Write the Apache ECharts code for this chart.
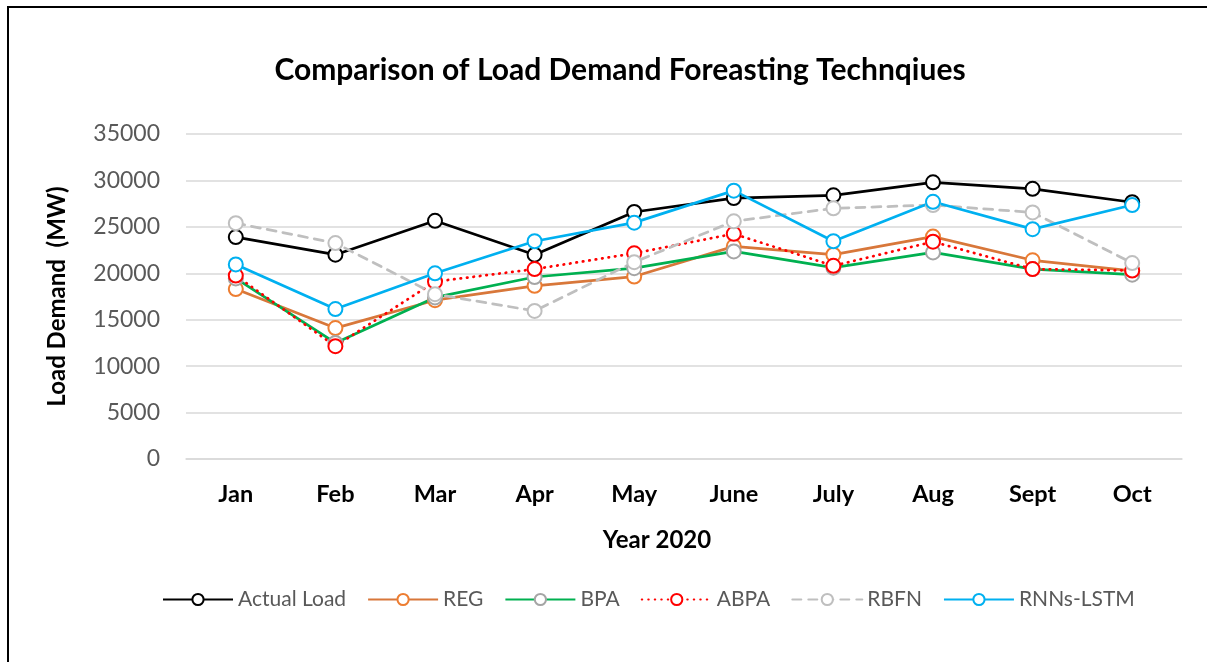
<!DOCTYPE html>
<html>
<head>
<meta charset="utf-8">
<script src="https://cdn.jsdelivr.net/npm/echarts@6/dist/echarts.min.js"></script>
<style>
  html, body { margin: 0; padding: 0; background: #fff; }
  #loadChart { width: 1207px; height: 662px; }
</style>
</head>
<body>
<div id="loadChart"></div>
<script>
  // months of 2020
  var months = ['Jan', 'Feb', 'Mar', 'Apr', 'May', 'June', 'July', 'Aug', 'Sept', 'Oct']

  // load demand in MW
  var actualLoad = [23900, 22000, 25650, 22000, 26600, 28100, 28400, 29800, 29100, 27650]
  var reg = [18300, 14100, 17100, 18650, 19650, 22900, 22000, 23950, 21400, 20250]
  var bpa = [19450, 12500, 17400, 19600, 20550, 22350, 20600, 22250, 20450, 19850]
  var abpa = [19750, 12150, 19100, 20450, 22150, 24250, 20800, 23400, 20450, 20300]
  var rbfn = [25400, 23250, 17750, 15950, 21200, 25600, 27000, 27350, 26550, 21100]
  var rnnsLstm = [20950, 16150, 20000, 23450, 25450, 28900, 23450, 27700, 24750, 27350]

  var yTicks = [0, 5000, 10000, 15000, 20000, 25000, 30000, 35000]

  var baseFont = 'Lato, "Liberation Sans", sans-serif'

  function makeLine(name, data, lineColor, markColor, lineType) {
    return {
      name: name,
      type: 'line',
      data: data,
      symbol: 'emptyCircle',
      symbolSize: 14,
      showSymbol: true,
      lineStyle: {
        color: lineColor,
        width: 2.75,
        type: lineType || 'solid',
        cap: lineType ? 'round' : 'butt'
      },
      itemStyle: {
        color: markColor,
        borderColor: markColor,
        borderWidth: 1.7
      },
      emphasis: { disabled: true }
    }
  }

  var myChart = echarts.init(document.getElementById('loadChart'))
  var option = {
    backgroundColor: '#fff',
    animation: false,
    title: {
      text: 'Comparison of Load Demand Foreasting Technqiues',
      left: 615,
      top: 50,
      textAlign: 'center',
      textStyle: {
        fontFamily: baseFont,
        fontSize: 30,
        fontWeight: 'bold',
        color: '#000'
      }
    },
    graphic: [{
      type: 'rect',
      shape: { x: 8, y: 7, width: 1220, height: 680 },
      style: { fill: 'none', stroke: '#000', lineWidth: 2 },
      silent: true
    }],
    legend: {
      bottom: 47,
      left: 157,
      itemWidth: 70,
      itemHeight: 14,
      itemGap: 21,
      textStyle: {
        fontFamily: baseFont,
        fontSize: 21,
        color: '#595959'
      },
      data: ['Actual Load', 'REG', 'BPA', 'ABPA', 'RBFN', 'RNNs-LSTM']
    },
    grid: {
      left: 186,
      right: 25,
      top: 134,
      bottom: 203,
      containLabel: false
    },
    xAxis: {
      type: 'category',
      data: months,
      boundaryGap: true,
      name: 'Year 2020',
      nameLocation: 'middle',
      nameGap: 69,
      nameTextStyle: {
        fontFamily: baseFont,
        fontSize: 24,
        fontWeight: 'bold',
        color: '#000',
        padding: [0, 54, 0, 0]
      },
      axisLine: { show: true, lineStyle: { color: '#d9d9d9', width: 1.5 } },
      axisTick: { show: false },
      axisLabel: {
        fontFamily: baseFont,
        fontSize: 23.5,
        fontWeight: 'bold',
        color: '#000',
        margin: 23
      }
    },
    yAxis: {
      type: 'value',
      min: yTicks[0],
      max: yTicks[yTicks.length - 1],
      interval: 5000,
      name: 'Load Demand  (MW)',
      nameLocation: 'middle',
      nameGap: 117,
      nameTextStyle: {
        fontFamily: baseFont,
        fontSize: 24,
        fontWeight: 'bold',
        color: '#000'
      },
      axisLine: { show: false },
      axisTick: { show: false },
      splitLine: { lineStyle: { color: '#d9d9d9', width: 1.5 } },
      axisLabel: {
        fontFamily: baseFont,
        fontSize: 23,
        color: '#595959',
        margin: 26,
        formatter: function (v) {
          return String(v)
        }
      }
    },
    series: [
      makeLine('Actual Load', actualLoad, '#000000', '#000000'),
      makeLine('REG', reg, '#d8773a', '#ed7d31'),
      makeLine('BPA', bpa, '#00b050', '#a5a5a5'),
      makeLine('ABPA', abpa, '#ff0000', '#ff0000', [0.5, 6]),
      makeLine('RBFN', rbfn, '#bfbfbf', '#bfbfbf', [9, 7]),
      makeLine('RNNs-LSTM', rnnsLstm, '#00b0f0', '#00b0f0')
    ]
  }
  myChart.setOption(option)
</script>
</body>
</html>
